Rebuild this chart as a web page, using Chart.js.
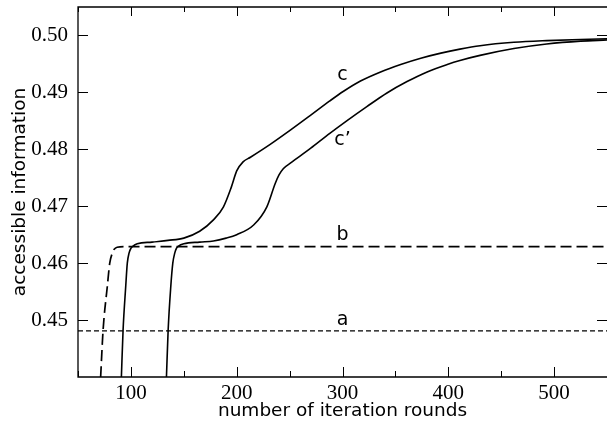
<!DOCTYPE html>
<html>
<head>
<meta charset="utf-8">
<script src="https://cdn.jsdelivr.net/npm/chart.js"></script>
<style>
  html,body{margin:0;padding:0;background:#fff;}
  #wrap{width:607px;height:426px;}
</style>
</head>
<body>
<div id="wrap"><canvas id="cv"></canvas></div>
<script>
// curve data: [iteration rounds, accessible information]
const curveA = [[50,0.4481],[550,0.4481]];
const curveB = [[71.4,0.44],[73.7,0.4482],[77.7,0.4559],[80,0.46],[82.5,0.4618],[84,0.4624],[87,0.4628],[95,0.4629],[550,0.4629]];
const curveC = [[91,0.44],[92.6,0.4482],[95.1,0.4559],[96.6,0.46],[98.3,0.4618],[100,0.4626],[102,0.4630],[106,0.4634],[120,0.4637],[135,0.4640],[150,0.4644],[165,0.4656],[178,0.4676],[187.5,0.4699],[195,0.4734],[200,0.4762],[206,0.4778],[213,0.4786],[232,0.4809],[251,0.4834],[270,0.4860],[288,0.4885],[301,0.4902],[317,0.4920],[336,0.4936],[355,0.4949],[374,0.4960],[393,0.4969],[411,0.4976],[430,0.4982],[462,0.4988],[493,0.4991],[525,0.4993],[550,0.4994]];
const curveC2 = [[133.6,0.44],[135.2,0.4482],[137.7,0.4559],[139.6,0.46],[141.5,0.4618],[143,0.4626],[145,0.4630],[150,0.4634],[165,0.4637],[178,0.4639],[190,0.4644],[200,0.4650],[216,0.4667],[228.5,0.4699],[236.4,0.4740],[240,0.4755],[244,0.4766],[251,0.4776],[270,0.4802],[288,0.4828],[304,0.4850],[323,0.4875],[342,0.4899],[361,0.4919],[380,0.4936],[399,0.4949],[411,0.4956],[430,0.4965],[462,0.4977],[493,0.4985],[525,0.4990],[550,0.4992]];

const xTicks = [100,200,300,400,500];
const xMinor = [50,150,250,350,450,550];
const yTicks = [0.45,0.46,0.47,0.48,0.49,0.50];

// curve labels: [text, x, y]
const curveLabels = [['c',300,0.4931],['c\u2019',300,0.4817],['b',300,0.4650],['a',300,0.4500]];

const pts = a => a.map(([x,y])=>({x,y}));

// frame, inward ticks on all sides, curve labels
const framePlugin = {
  id:'frame',
  afterDatasetsDraw(chart){
    const {ctx, chartArea:{left,right,top,bottom}, scales:{x,y}} = chart;
    ctx.save();
    ctx.strokeStyle='#000'; ctx.lineWidth=1.3;
    ctx.beginPath();
    ctx.moveTo(right+2,top); ctx.lineTo(left,top); ctx.lineTo(left,bottom); ctx.lineTo(right+2,bottom);
    ctx.stroke();
    ctx.lineWidth=1;
    ctx.beginPath();
    xTicks.forEach(v=>{ const p=Math.round(x.getPixelForValue(v))+0.5; ctx.moveTo(p,bottom); ctx.lineTo(p,bottom-10); ctx.moveTo(p,top); ctx.lineTo(p,top+9); });
    xMinor.forEach(v=>{ const p=Math.round(x.getPixelForValue(v))+0.5; ctx.moveTo(p,bottom); ctx.lineTo(p,bottom-6); ctx.moveTo(p,top); ctx.lineTo(p,top+5); });
    yTicks.forEach(v=>{ const p=Math.round(y.getPixelForValue(v))+0.5; ctx.moveTo(left,p); ctx.lineTo(left+10,p); ctx.moveTo(right,p); ctx.lineTo(right-10,p); });
    ctx.stroke();
    ctx.fillStyle='#000';
    ctx.font='19px "DejaVu Sans"';
    ctx.textAlign='center'; ctx.textBaseline='middle';
    curveLabels.forEach(([t,vx,vy])=>ctx.fillText(t, x.getPixelForValue(vx), y.getPixelForValue(vy)));
    ctx.restore();
  }
};

const noPad = s => { s.paddingTop=0; s.paddingBottom=0; s.paddingLeft=0; s.paddingRight=0; };
const line = (data, dash, w) => ({ data: pts(data), borderColor:'#000', borderWidth:w, borderDash:dash, pointRadius:0, fill:false, cubicInterpolationMode:'monotone' });

new Chart(document.getElementById('cv'), {
  type:'line',
  data:{ datasets:[ line(curveA,[5,3],1.1), line(curveB,[11,5],1.7), line(curveC,[],1.6), line(curveC2,[],1.6) ] },
  options:{
    responsive:true, maintainAspectRatio:false, animation:false,
    devicePixelRatio:1,
    layout:{ padding:{ top:7, right:0, left:0, bottom:0 } },
    plugins:{ legend:{display:false}, tooltip:{enabled:false} },
    scales:{
      x:{ type:'linear', min:50, max:550,
        afterBuildTicks:s=>{ s.ticks = xTicks.map(v=>({value:v})); },
        afterFit:s=>{ s.height=49; noPad(s); },
        grid:{display:false}, border:{display:false},
        ticks:{ padding:-4, color:'#000', font:{family:'"Liberation Serif"', size:21}, callback:v=>String(v), maxRotation:0 },
        title:{ display:true, text:'number of iteration rounds', color:'#000', font:{family:'"DejaVu Sans"', size:18.5}, padding:{top:0,bottom:4} }
      },
      y:{ type:'linear', min:0.44, max:0.505,
        afterBuildTicks:s=>{ s.ticks = yTicks.map(v=>({value:v})); },
        afterFit:s=>{ s.width=78; noPad(s); },
        grid:{display:false}, border:{display:false},
        ticks:{ padding:2, color:'#000', font:{family:'"Liberation Serif"', size:21}, callback:v=>Number(v).toFixed(2) },
        title:{ display:true, text:'accessible information', color:'#000', font:{family:'"DejaVu Sans"', size:18.5}, padding:{top:9,bottom:0} }
      }
    }
  },
  plugins:[framePlugin]
});
</script>
</body>
</html>
